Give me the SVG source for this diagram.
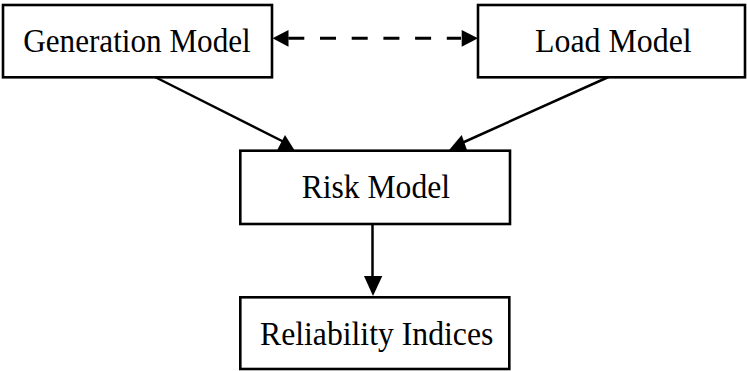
<svg xmlns="http://www.w3.org/2000/svg" width="747" height="371" viewBox="0 0 747 371">
<style>
.box{fill:#fff;stroke:#000;stroke-width:2.6}
.lbl{font-family:"Liberation Serif","Times New Roman",serif;font-size:33.5px;fill:#000;text-anchor:start}
.ln{stroke:#000;stroke-width:2.5;fill:none}
.dash{stroke:#000;stroke-width:3;fill:none;stroke-dasharray:16 15.7}
.ah{fill:#000;stroke:none}
</style>
<rect width="747" height="371" fill="#fff"/>
<g id="connectors">
<line class="dash" x1="288.3" y1="38.3" x2="461" y2="38.3"/>
<polygon class="ah" points="272.5,38.3 288.5,30 288.5,46.7"/>
<polygon class="ah" points="478,38.3 461.7,30 461.7,46.7"/>
<line class="ln" x1="155" y1="77" x2="284" y2="142"/>
<polygon class="ah" points="276.7,151 285,135 295,151"/>
<line class="ln" x1="608.5" y1="77" x2="463" y2="142.5"/>
<polygon class="ah" points="448.3,151 461.7,135 467.3,151"/>
<line class="ln" x1="372.5" y1="224" x2="372.5" y2="278"/>
<polygon class="ah" points="364,276 382.3,276 373,296"/>
</g>
<g id="generation">
<rect class="box" x="3" y="5" width="269" height="72.3"/>
<text class="lbl" x="23.3" y="52.3" textLength="227.4" lengthAdjust="spacingAndGlyphs">Generation Model</text>
</g>
<g id="load">
<rect class="box" x="478" y="5" width="267" height="72.3"/>
<text class="lbl" x="535" y="52.3" textLength="156.7" lengthAdjust="spacingAndGlyphs">Load Model</text>
</g>
<g id="risk">
<rect class="box" x="240.3" y="150.7" width="269.7" height="73.3"/>
<text class="lbl" x="301.7" y="198.3" textLength="148.3" lengthAdjust="spacingAndGlyphs">Risk Model</text>
</g>
<g id="reliability">
<rect class="box" x="240.3" y="297.3" width="269" height="71.7"/>
<text class="lbl" x="260" y="345" textLength="233.3" lengthAdjust="spacingAndGlyphs">Reliability Indices</text>
</g>
</svg>
